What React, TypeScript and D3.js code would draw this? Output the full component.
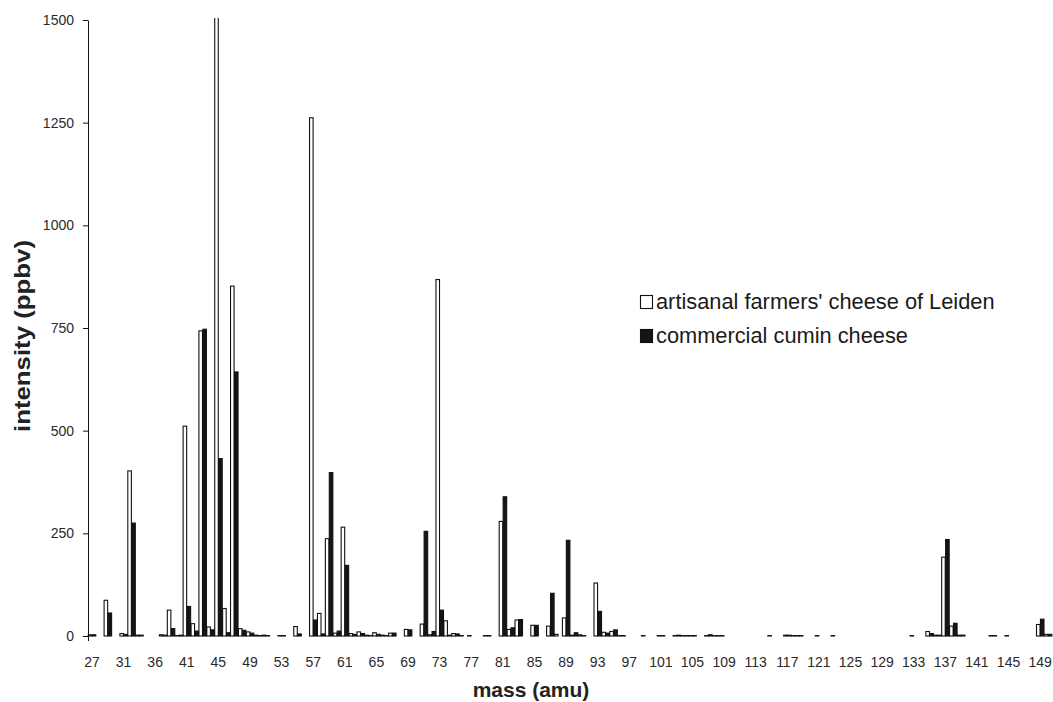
import React, { useEffect, useRef } from "react";
import * as d3 from "d3";

// mass channels shown on the category axis (32 and 37 are not in the spectrum)
const masses = [
  27, 28, 29, 30, 31, 33, 34, 35, 36,
  38, 39, 40, 41, 42, 43, 44, 45, 46, 47,
  48, 49, 50, 51, 52, 53, 54, 55, 56, 57,
  58, 59, 60, 61, 62, 63, 64, 65, 66, 67,
  68, 69, 70, 71, 72, 73, 74, 75, 76, 77,
  78, 79, 80, 81, 82, 83, 84, 85, 86, 87,
  88, 89, 90, 91, 92, 93, 94, 95, 96, 97,
  98, 99, 100, 101, 102, 103, 104, 105, 106, 107,
  108, 109, 110, 111, 112, 113, 114, 115, 116, 117,
  118, 119, 120, 121, 122, 123, 124, 125, 126, 127,
  128, 129, 130, 131, 132, 133, 134, 135, 136, 137,
  138, 139, 140, 141, 142, 143, 144, 145, 146, 147,
  148, 149, 150,
];

// artisanal farmers' cheese of Leiden (white bars)
const artisanal = [
  3, 0, 87, 0, 6, 402, 2, 0, 0,
  3, 63, 1, 511, 30, 743, 22, 1560, 67, 852,
  18, 10, 2, 2, 0, 1, 0, 23, 0, 1262,
  55, 237, 7, 265, 6, 10, 2, 8, 2, 7,
  0, 16, 0, 29, 3, 868, 37, 6, 1, 1,
  0, 1, 0, 279, 16, 39, 0, 26, 0, 24,
  4, 44, 2, 3, 0, 129, 9, 11, 1, 0,
  0, 1, 0, 1, 0, 1, 1, 1, 0, 1,
  1, 1, 0, 0, 0, 0, 0, 1, 0, 2,
  1, 1, 0, 1, 0, 1, 0, 0, 0, 0,
  0, 0, 0, 0, 0, 1, 0, 11, 2, 192,
  24, 2, 0, 0, 0, 1, 0, 1, 0, 0,
  0, 28, 4,
];

// commercial cumin cheese (black bars)
const commercial = [
  3, 0, 56, 0, 4, 275, 2, 0, 0,
  2, 18, 2, 72, 12, 747, 15, 432, 8, 643,
  14, 7, 1, 1, 0, 1, 0, 5, 0, 39,
  5, 398, 12, 172, 4, 6, 1, 4, 1, 7,
  0, 15, 0, 255, 11, 63, 2, 5, 0, 0,
  0, 1, 0, 339, 20, 40, 0, 26, 0, 104,
  0, 233, 8, 1, 0, 60, 7, 15, 1, 0,
  0, 0, 0, 1, 0, 2, 1, 1, 0, 3,
  1, 0, 0, 0, 0, 0, 0, 0, 0, 2,
  1, 0, 0, 0, 0, 0, 0, 0, 0, 0,
  0, 0, 0, 0, 0, 0, 0, 6, 2, 235,
  31, 2, 0, 0, 0, 1, 0, 0, 0, 0,
  0, 41, 4,
];

const yTicks = [0, 250, 500, 750, 1000, 1250, 1500];
const seriesNames = ["artisanal farmers' cheese of Leiden", "commercial cumin cheese"];
const seriesFills = ["#ffffff", "#151515"];

const FONT = "'Liberation Sans', Arial, Helvetica, sans-serif";

const App = () => {
  const svgRef = useRef(null);

  useEffect(() => {
    const svg = d3.select(svgRef.current);
    svg.selectAll("*").remove();

    const left = 88;
    const right = 1052;
    const top = 20;
    const bottom = 636;

    const x = d3.scaleBand().domain(masses.map(String)).range([left, right]).padding(0);
    const sub = d3.scaleBand().domain(["0", "1"]).range([0, x.bandwidth()]);
    const y = d3.scaleLinear().domain([0, 1500]).range([bottom, top]);

    svg
      .append("defs")
      .append("clipPath")
      .attr("id", "plotClip")
      .append("rect")
      .attr("x", left - 5)
      .attr("y", top - 2)
      .attr("width", right - left + 10)
      .attr("height", bottom - top + 10);

    const rows = masses.map((m, i) => ({ m: String(m), v: [artisanal[i], commercial[i]] }));

    const bars = svg.append("g").attr("clip-path", "url(#plotClip)");
    [0, 1].forEach((s) => {
      bars
        .selectAll(null)
        .data(rows.filter((r) => r.v[s] > 0))
        .enter()
        .append("rect")
        .attr("x", (d) => x(d.m) + sub(String(s)) + 0.3)
        .attr("y", (d) => y(d.v[s]))
        .attr("width", sub.bandwidth() - 0.4)
        .attr("height", (d) => y(0) - y(d.v[s]))
        .attr("fill", seriesFills[s])
        .attr("stroke", "#111")
        .attr("stroke-width", 1.1);
    });

    // value axis
    const yAxis = d3
      .axisLeft(y)
      .tickValues(yTicks)
      .tickFormat(d3.format("d"))
      .tickSize(5)
      .tickSizeOuter(0)
      .tickPadding(9);
    const ya = svg.append("g").attr("transform", `translate(${left},0)`).call(yAxis);
    ya.attr("font-family", FONT).attr("font-size", 14);
    ya.select(".domain").attr("stroke", "#111");
    ya.selectAll(".tick line").attr("stroke", "#111");
    ya.selectAll(".tick text").attr("fill", "#2a2a2a");

    // small tick at the corner of the category axis
    svg
      .append("line")
      .attr("x1", left + 0.5)
      .attr("x2", left + 0.5)
      .attr("y1", bottom)
      .attr("y2", bottom + 5)
      .attr("stroke", "#111");

    // category labels, every 4th channel
    svg
      .append("g")
      .selectAll("text")
      .data(masses.filter((m, i) => i % 4 === 0))
      .enter()
      .append("text")
      .attr("x", (m) => x(String(m)) + x.bandwidth() / 2)
      .attr("y", 667)
      .attr("text-anchor", "middle")
      .attr("font-family", FONT)
      .attr("font-size", 14)
      .attr("fill", "#2a2a2a")
      .text((m) => m);

    // axis titles
    svg
      .append("text")
      .attr("x", 531)
      .attr("y", 697)
      .attr("text-anchor", "middle")
      .attr("font-family", FONT)
      .attr("font-weight", "bold")
      .attr("font-size", 21)
      .attr("fill", "#222")
      .text("mass (amu)");

    svg
      .append("text")
      .attr("transform", "translate(30,336) rotate(-90)")
      .attr("text-anchor", "middle")
      .attr("font-family", FONT)
      .attr("font-weight", "bold")
      .attr("font-size", 22)
      .attr("textLength", 192)
      .attr("lengthAdjust", "spacingAndGlyphs")
      .attr("fill", "#222")
      .text("intensity (ppbv)");

    // legend
    const legend = svg.append("g").attr("transform", "translate(640,295)");
    seriesNames.forEach((name, i) => {
      const row = legend.append("g").attr("transform", `translate(0,${i * 34})`);
      row
        .append("rect")
        .attr("x", 0.5)
        .attr("y", 0.5)
        .attr("width", 12)
        .attr("height", 13)
        .attr("fill", seriesFills[i])
        .attr("stroke", "#111")
        .attr("stroke-width", 1.1);
      row
        .append("text")
        .attr("x", 16)
        .attr("y", 14)
        .attr("font-family", FONT)
        .attr("font-size", 21.8)
        .attr("fill", "#1a1a1a")
        .text(name);
    });
  }, []);

  return (
    <svg
      ref={svgRef}
      width="1053"
      height="702"
      style={{ position: "absolute", left: 0, top: 0, background: "#fff" }}
    ></svg>
  );
};

export default App;
